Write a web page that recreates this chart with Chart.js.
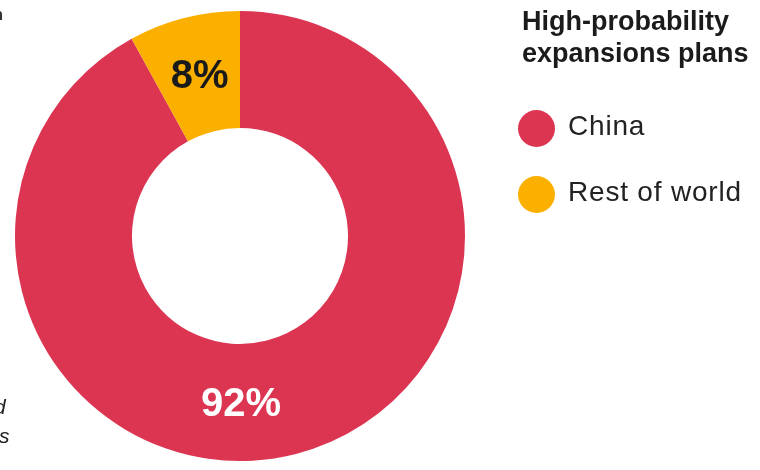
<!DOCTYPE html>
<html>
<head>
<meta charset="utf-8">
<script src="https://cdn.jsdelivr.net/npm/chart.js@4"></script>
<style>
  html, body { margin: 0; padding: 0; background: #fff; }
  #wrap { position: relative; width: 760px; height: 470px; overflow: hidden; font-family: 'Liberation Sans', Arial, sans-serif; }
  #chart { position: absolute; left: 0; top: 0; }
  #legendTitle { position: absolute; left: 522px; top: 5px; font-size: 27px; font-weight: bold; line-height: 32px; color: #1b1b1b; white-space: nowrap; }
  .item { position: absolute; left: 518px; height: 36px; display: flex; align-items: center; white-space: nowrap; }
  .dot { width: 37px; height: 37px; border-radius: 50%; margin-right: 13px; }
  .lbl { font-size: 28px; line-height: 36px; color: #222; letter-spacing: 0.8px; position: relative; top: -2px; }
  .frag { position: absolute; font-style: italic; color: #222; font-size: 21px; white-space: nowrap; }
</style>
</head>
<body>
<div id="wrap">
  <canvas id="chart" width="760" height="470"></canvas>
  <div id="legendTitle">High-probability<br>expansions plans</div>
  <div id="legendItems"></div>
  <div class="frag" style="right:757px; top:6px; font-style:normal; font-weight:bold; font-size:16px; color:#333;">n</div>
  <div class="frag" style="left:-6px; top:395px;">d</div>
  <div class="frag" style="left:-1px; top:424px;">s</div>
</div>
<script>
// ── Data ─────────────────────────────────────────────
const categories = ['China', 'Rest of world'];
const shares     = [92, 8];
const colors     = ['#DC3551', '#FBB000'];
const labelColors = ['#ffffff', '#1a1a1a'];

// ── HTML legend ──────────────────────────────────────
const legendBox = document.getElementById('legendItems');
categories.forEach((name, i) => {
    const row = document.createElement('div');
    row.className = 'item';
    row.style.top = (110 + i * 66) + 'px';
    row.innerHTML = `<span class="dot" style="background:${colors[i]}"></span><span class="lbl">${name}</span>`;
    legendBox.appendChild(row);
});

// ── Percentage labels on the ring ────────────────────
const ringLabels = {
    id: 'ringLabels',
    afterDatasetsDraw(chart) {
        const { ctx } = chart;
        const meta = chart.getDatasetMeta(0);
        ctx.save();
        ctx.font = "bold 40px 'Liberation Sans', Arial, sans-serif";
        ctx.textAlign = 'center';
        ctx.textBaseline = 'middle';
        meta.data.forEach((arc, i) => {
            const p = arc.getProps(['x', 'y', 'startAngle', 'endAngle', 'innerRadius', 'outerRadius'], true);
            const r = (p.innerRadius + p.outerRadius) / 2;
            // big slice: label sits at the bottom of the ring
            const a = (p.endAngle - p.startAngle) > Math.PI ? Math.PI / 2 : (p.startAngle + p.endAngle) / 2;
            ctx.fillStyle = labelColors[i];
            ctx.fillText(shares[i] + '%', p.x + Math.cos(a) * r + 1, p.y + Math.sin(a) * r + 2);
        });
        ctx.restore();
    }
};

new Chart(document.getElementById('chart').getContext('2d'), {
    type: 'doughnut',
    data: {
        labels: categories,
        datasets: [{
            data: shares,
            backgroundColor: colors,
            borderWidth: 0
        }]
    },
    options: {
        responsive: false,
        animation: false,
        cutout: '48%',
        layout: { padding: { left: 15, right: 295, top: 11, bottom: 9 } },
        plugins: {
            legend: { display: false },
            tooltip: { enabled: false }
        }
    },
    plugins: [ringLabels]
});
</script>
</body>
</html>
